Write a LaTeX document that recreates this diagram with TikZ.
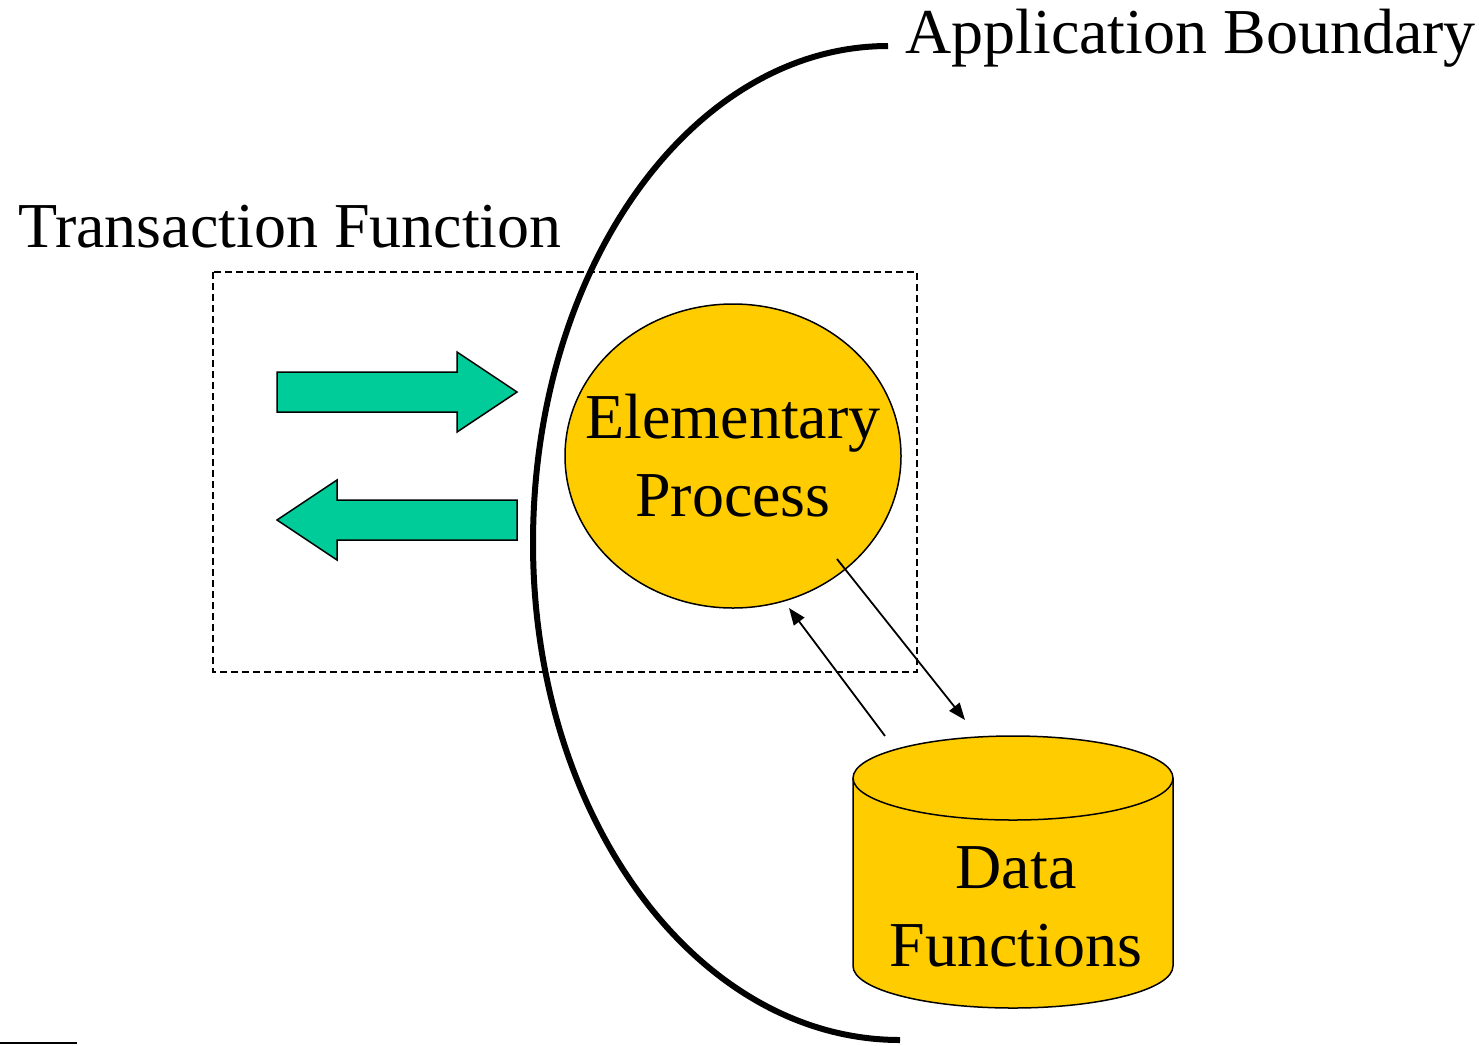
\documentclass[tikz,border=0pt]{standalone}
\usepackage{fontspec}
\setmainfont{Liberation Serif}
\usetikzlibrary{arrows.meta,shapes.geometric}
\definecolor{gold}{HTML}{FFCC00}
\definecolor{flowgreen}{HTML}{00CC99}
\tikzset{every node/.style={font=\fontsize{64}{78}\selectfont,inner sep=0pt},line cap=round,line join=round,
  flowarrow/.style={draw,fill=flowgreen,line width=1.5pt,line join=miter},
  store/.style={draw,fill=gold,line width=1.5pt},
  access/.style={line width=1.8pt,-{Triangle[length=17pt,width=13pt]}}}

\begin{document}
\begin{tikzpicture}[x=1pt,y=-1pt]
  \path[use as bounding box] (0,0) rectangle (1479,1045);
  % transaction function frame
  \draw[line width=1.5pt,dash pattern=on 7pt off 4pt,line cap=butt] (213,272) rectangle (917,672);
  \node[anchor=base west] (tf) at (18,247) {Transaction Function};
  % flows in and out
  \draw[flowarrow] (277,372) -- (457,372) -- (457,352) -- (517,392) -- (457,432) -- (457,412) -- (277,412) -- cycle;
  \draw[flowarrow] (517,500) -- (337,500) -- (337,480) -- (277,520) -- (337,560) -- (337,540) -- (517,540) -- cycle;
  % application boundary
  \draw[line width=6pt,line cap=butt] (888,46) .. controls (692,46) and (533,268) .. (533,543)
    .. controls (533,818) and (697,1040) .. (900,1040);
  \node[anchor=base west] (ab) at (905,53) {Application Boundary};
  % elementary process
  \node[ellipse,store,minimum width=336pt,minimum height=304pt] (ep) at (733,456) {};
  \node[align=center] (eptext) at (ep.center) {Elementary\\Process};
  % data functions
  \draw[store] (853,778) -- (853,966) arc[start angle=180,end angle=360,x radius=160pt,y radius=42pt] -- (1173,778);
  \draw[store] (1013,778) ellipse[x radius=160pt,y radius=42pt];
  \node[align=center] (df) at (1016,907) {Data\\Functions};
  % read and write
  \coordinate (epout) at (837,559);
  \coordinate (dfin) at (965,720);
  \coordinate (dfout) at (885,736);
  \coordinate (epin) at (789,608);
  \draw[access] (epout) -- (dfin);
  \draw[access] (dfout) -- (epin);
  \draw[line width=2.5pt,line cap=butt] (0,1043) -- (77,1043);
\end{tikzpicture}
\end{document}
